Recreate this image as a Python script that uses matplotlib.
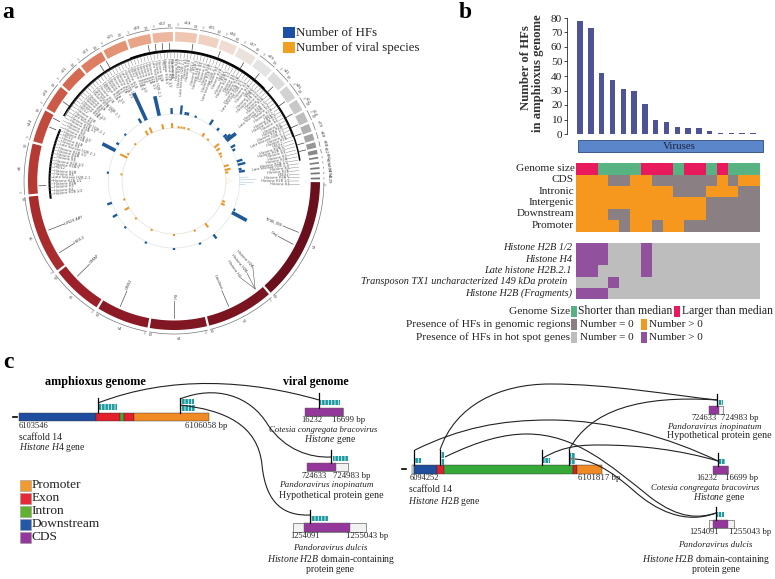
import numpy as np
import matplotlib
matplotlib.use("Agg")
import matplotlib.pyplot as plt
from matplotlib.colors import ListedColormap
from matplotlib.patches import Rectangle, PathPatch
from matplotlib.path import Path

plt.rcParams['font.family'] = ['Liberation Serif', 'DejaVu Serif']
plt.rcParams['mathtext.fontset'] = 'custom'
plt.rcParams['mathtext.rm'] = 'Liberation Serif'
plt.rcParams['mathtext.it'] = 'Liberation Serif:italic'
plt.rcParams['hatch.linewidth'] = 0.6

# ---- panel a data (angles in degrees, clockwise from the top)
seg_names = ["s1", "s2", "s3", "s4", "s5", "s6", "s8", "s14", "s20", "s21", "s23", "s25", "s30",
             "s32", "s34", "s35", "s36", "s37", "s39", "s41", "s46", "s52", "s54", "s79", "s80",
             "s88", "s92", "s96", "s99", "s101", "s104", "s129"]
seg_edges = [90, 139, 166.5, 190, 211.6, 232.7, 264.4, 285, 298.7, 309.6, 320, 330.6, 341, 351,
             360, 369.6, 378.5, 386, 394.5, 402.5, 410, 416.5, 422, 427, 431, 434.5, 437.5, 440,
             442, 444, 446, 448, 450]
seg_colors = ["#6a0f1c", "#7a1420", "#801722", "#8c1a26", "#9c2029", "#a82c2e", "#b53a33", "#c04a3d",
              "#cc5a48", "#d56a52", "#dd7e63", "#e39373", "#e8a587", "#ecb79e", "#efc6b2", "#f0d2c3",
              "#efdcd2", "#ece2dc", "#e4e4e4", "#dcdcdc", "#d2d2d2", "#c8c8c8", "#bdbdbd", "#b0b0b0",
              "#a4a4a4", "#969696", "#888888", "#808080", "#808080", "#777777", "#777777", "#777777"]

hf_angles = [297, 303, 313, 330, 335, 347, 358, 6, 10, 12, 19, 33, 41, 49, 51, 53, 60, 63, 73, 76, 80, 82,
             277, 251, 240, 227, 205, 180, 157, 143, 115, 118]
hf_heights = [15, 3, 2, 5, 30, 20, 6, 9, 3, 3, 2, 6, 3, 4, 7, 12, 5, 3, 6, 8, 3, 6,
              2, 5, 5, 2, 2, 2, 2, 5, 2, 17]
vs_angles = [296, 300, 313, 330, 335, 348, 358, 5, 8, 11, 16, 33, 40, 51, 55, 60, 63, 74, 78, 81,
             277, 250, 240, 226, 205, 180, 157, 143, 115, 112]
vs_heights = [8, 2, 2, 5, 6, 5, 5, 2, 2, 2, 2, 4, 2, 6, 4, 3, 2, 5, 6, 3,
              2, 2, 5, 2, 2, 2, 2, 5, 4, 3]
thin_angles = [87, 89, 91, 93]
thin_heights = [9, 17, 14, 6]

gene_names = ["Histone H2B 1/2", "Histone H4", "Histone H3", "Histone H2A", "Histone H2B 1/2",
              "Late histone H2B.2.1", "Histone H4", "Histone H2B", "HSDL2", "Histone H2A.V"]
side_angles = [249, 238.5, 226, 203.6, 180, 156, 117.5, 112]
side_names = ["LIN28 ABY", "HSDL2", "GIMAP", "GINS2", "Pol", "Catalase", "Gag", "TY3B_XIB"]
stem_angles = [268, 293, 297, 305, 327, 330, 349, 352, 355, 358, 8, 20, 31, 39, 47, 55, 61, 66, 70, 74, 77]

# ---- panel b data
hf_counts = [78, 73, 42, 37, 31, 30, 21, 10, 8, 5, 4, 4, 2, 1, 1, 1, 1]
hf_ticks = [0, 10, 20, 30, 40, 50, 60, 70, 80]
region_labels = ["Genome size", "CDS", "Intronic", "Intergenic", "Downstream", "Promoter"]
genome_size = [1, 1, 0, 0, 0, 0, 1, 1, 1, 0, 1, 1, 0, 1, 0, 0, 0]
cds =         [3, 3, 3, 2, 2, 3, 3, 2, 2, 2, 2, 2, 2, 3, 2, 3, 3]
intronic =    [3, 3, 3, 3, 3, 3, 3, 3, 3, 2, 2, 2, 3, 3, 3, 2, 2]
intergenic =  [3, 3, 3, 3, 3, 3, 3, 3, 3, 3, 3, 3, 2, 2, 2, 2, 2]
downstream =  [3, 3, 3, 2, 2, 3, 3, 3, 3, 3, 3, 3, 2, 2, 2, 2, 2]
promoter =    [3, 3, 3, 3, 2, 3, 3, 2, 3, 3, 2, 2, 2, 2, 2, 2, 2]
hot_labels = ["Histone H2B 1/2", "Histone H4", "Late histone H2B.2.1",
              "Transposon TX1 uncharacterized 149 kDa protein", "Histone H2B (Fragments)"]
hot_right = [572, 572, 572, 567, 572]
hot_h2b12 =   [1, 1, 1, 0, 0, 0, 1, 0, 0, 0, 0, 0, 0, 0, 0, 0, 0]
hot_h4 =      [1, 1, 1, 0, 0, 0, 1, 0, 0, 0, 0, 0, 0, 0, 0, 0, 0]
hot_late =    [1, 1, 0, 0, 0, 0, 1, 0, 0, 0, 0, 0, 0, 0, 0, 0, 0]
hot_tx1 =     [0, 0, 0, 1, 0, 0, 0, 0, 0, 0, 0, 0, 0, 0, 0, 0, 0]
hot_frag =    [1, 1, 1, 0, 0, 0, 0, 0, 0, 0, 0, 0, 0, 0, 0, 0, 0]

# ---- panel c data: gene parts as (start, stop, colour)
h4_parts = [(19, 96, "#1f4e9e"), (96, 120, "#e21f2a"), (120, 124, "#4aa832"),
            (124, 134, "#e21f2a"), (134, 209, "#f08a24")]
h2b_parts = [(412, 414, "#e8e8e8"), (414, 437, "#1f4e9e"), (437, 444, "#e21f2a"),
             (444, 573, "#36a838"), (573, 577, "#d0201f"), (577, 602, "#f08a24")]
legend_c = ["Promoter", "Exon", "Intron", "Downstream", "CDS"]
legend_c_colors = ["#f09a30", "#e6283a", "#62b030", "#2358a8", "#93379a"]

BLUE = "#1f5a96"
ORANGE = "#e8972a"
GREEN = "#57b482"
RED = "#e8195c"
HEAT_ORANGE = "#f6971e"
HEAT_GRAY = "#8a7f83"
LIGHT = "#bdbdbd"
PURPLE = "#91519c"
TEXT = "#222222"
TEAL = "#1b9aa0"

SMALL = 6.0    # coordinates under the gene boxes
NOTE = 6.9     # scaffold / gene captions
ITAL = 6.3     # virus names

fig = plt.figure(figsize=(7.75, 5.79), dpi=100)
ax = fig.add_axes([0, 0, 1, 1])
ax.set_xlim(0, 775)
ax.set_ylim(579, 0)
ax.axis('off')

def txt(x, y, s, size=9.5, ha='left', va='center', **kw):
    kw.setdefault('color', TEXT)
    ax.text(x, y, s, fontsize=size, ha=ha, va=va, **kw)

CX, CY = 174, 181

def pol(a, r):
    a = np.radians(a)
    return CX + 0.98 * r * np.sin(a), CY - r * np.cos(a)

def arc(a0, a1, r, **kw):
    xs, ys = pol(np.linspace(a0, a1, 80), r)
    ax.plot(xs, ys, solid_capstyle='butt', **kw)

# ---------- a
txt(8, 13, "a", 17, ha='center', fontweight='bold', color='black')
for i, name in enumerate(seg_names):
    a0, a1 = seg_edges[i] + 0.45, seg_edges[i + 1] - 0.45
    if a1 - a0 < 1.2:
        a0, a1 = a0 + 0.2, a1 - 0.2
    t = np.linspace(a0, a1, 40)
    xo, yo = pol(t, 149)
    xi, yi = pol(t[::-1], 139.5)
    ax.fill(np.r_[xo, xi], np.r_[yo, yi], color=seg_colors[i], lw=0)
    arc(a0, a1, 153, color="#777777", lw=0.5)
    mid = (a0 + a1) / 2
    x, y = pol(mid, 158)
    rot = -mid if np.cos(np.radians(mid)) > 0 else 180 - mid
    txt(x, y, name, 3.6, ha='center', rotation=rot, color="#333333")
    if a1 - a0 > 4:
        for e in (a0 + 1, a1 - 1):
            x, y = pol(e, 155.5)
            txt(x, y, "0" if e < mid else "1M", 2.2, ha='center', rotation=rot, color="#555555")

# link arcs
arc(262, 294, 127, color="black", lw=1.5)
arc(300, 360 + 81, 130, color="black", lw=1.1)
arc(304, 360 + 70, 129.2, color="#111111", lw=0.9)
arc(340, 360 + 45, 130.6, color="black", lw=1.0)
arc(300, 340, 128.6, color="#444444", lw=0.5)
for a in stem_angles:
    x, y = pol(np.array([a, a]), np.array([131, 138]))
    ax.plot(x, y, color="#444444", lw=0.5)

# radial gene labels
label_angles = np.arange(-96, 92, 1.55)
for i, a in enumerate(label_angles):
    a = a % 360
    r_out = 123 if a > 180 or a < 70 else 118
    x, y = pol(np.array([a, a]), np.array([r_out, 128]))
    ax.plot(x, y, color="#777777", lw=0.3)
    x, y = pol(a, r_out)
    name = gene_names[i % len(gene_names)]
    if a > 180:
        ax.text(x, y, name, fontsize=2.5, color="#555555", rotation=270 - a, ha='left', va='center',
                rotation_mode='anchor', family='DejaVu Sans')
    else:
        ax.text(x, y, name, fontsize=2.5, color="#555555", rotation=90 - a, ha='right', va='center',
                rotation_mode='anchor', family='DejaVu Sans')

# bottom leaders with a single gene each
for a, name in zip(side_angles, side_names):
    x, y = pol(np.array([a, a]), np.array([137, 120]))
    ax.plot(x, y, color="#555555", lw=0.5)
    x, y = pol(a, 119)
    if a > 180:
        ax.text(x, y, name, fontsize=2.7, color="#444444", rotation=270 - a, ha='left', va='center',
                rotation_mode='anchor', family='DejaVu Sans')
    else:
        ax.text(x, y, name, fontsize=2.7, color="#444444", rotation=90 - a, ha='right', va='center',
                rotation_mode='anchor', family='DejaVu Sans')
for a2, name in zip([137, 141, 145], ["Histone H2A", "Histone H2B", "Histone H4"]):
    x, y = pol(np.array([142.5, a2]), np.array([136, 118]))
    ax.plot(x, y, color="#555555", lw=0.4)
    x, y = pol(a2, 117)
    ax.text(x, y, name, fontsize=2.6, color="#444444", rotation=90 - a2, ha='right', va='center',
            rotation_mode='anchor', family='DejaVu Sans')

# two bar tracks
arc(0, 360, 67, color="#e1e9ee", lw=0.6)
arc(0, 360, 53, color="#e9e4dc", lw=0.6)
for a, h in zip(hf_angles, hf_heights):
    x, y = pol(np.array([a, a]), np.array([67, 67 + h]))
    ax.plot(x, y, color=BLUE, lw=2.6 if h >= 10 else 1.7, solid_capstyle='butt')
for a, h in zip(vs_angles, vs_heights):
    x, y = pol(np.array([a, a]), np.array([53, 53 + h]))
    ax.plot(x, y, color=ORANGE, lw=1.5, solid_capstyle='butt')
for a, h in zip(thin_angles, thin_heights):
    x, y = pol(np.array([a, a]), np.array([67, 67 + h]))
    ax.plot(x, y, color="#a8c6de", lw=0.4)
    x, y = pol(np.array([a, a]), np.array([53, 53 + h * 0.4]))
    ax.plot(x, y, color="#f5dcbc", lw=0.3)

ax.add_patch(Rectangle((283, 27), 12, 11, color="#1e4fa6", lw=0))
ax.add_patch(Rectangle((283, 42), 12, 11, color="#f0a020", lw=0))
txt(296, 33, "Number of HFs", 9.3)
txt(296, 48, "Number of viral species", 9.3)

# ---------- b
txt(465, 12, "b", 17, ha='center', fontweight='bold', color='black')
W, H = 775.0, 579.0

def add_px_axes(x0, y0, x1, y1):
    return fig.add_axes([x0 / W, 1 - y1 / H, (x1 - x0) / W, (y1 - y0) / H])

bar_ax = add_px_axes(567, 18, 765, 134)
bar_ax.patch.set_alpha(0)
bar_ax.bar(range(len(hf_counts)), hf_counts, width=0.5, color="#4d5394")
bar_ax.set_xlim(-13 / 10.8, (765 - 580) / 10.8)
bar_ax.set_ylim(0, 80)
bar_ax.set_yticks(hf_ticks)
bar_ax.tick_params(axis='y', labelsize=8.2, length=2, width=0.5, pad=1.5, labelcolor=TEXT)
bar_ax.set_xticks([])
for s in ('top', 'right', 'bottom'):
    bar_ax.spines[s].set_visible(False)
bar_ax.spines['left'].set_linewidth(0.5)
txt(526, 68, "Number of HFs", 9.2, ha='center', rotation=90, fontweight='bold', color="#333333")
txt(538, 73, "in amphioxus genome", 9.2, ha='center', rotation=90, fontweight='bold', color="#333333")

ax.add_patch(Rectangle((578, 140), 185, 12, facecolor="#5b86c9", edgecolor="#2e4a7a", lw=0.6))
txt(679, 146.5, "Viruses", 7.8, ha='center', color="#1a2440")

rows = np.array([genome_size, cds, intronic, intergenic, downstream, promoter])
heat_ax = add_px_axes(576, 163, 760, 232)
heat_ax.pcolormesh(rows, cmap=ListedColormap([GREEN, RED, HEAT_GRAY, HEAT_ORANGE]), vmin=0, vmax=3)
heat_ax.invert_yaxis()
heat_ax.axis('off')
for i, lab in enumerate(region_labels):
    txt(575 if i == 0 else 574, 168.3 + i * 11.4, lab, 8.1, ha='right')

hot = np.array([hot_h2b12, hot_h4, hot_late, hot_tx1, hot_frag])
hot_ax = add_px_axes(576, 243, 760, 299)
hot_ax.pcolormesh(hot, cmap=ListedColormap([LIGHT, PURPLE]), vmin=0, vmax=1)
hot_ax.invert_yaxis()
hot_ax.axis('off')
for i, lab in enumerate(hot_labels):
    txt(hot_right[i], 247.6 + i * 11.4, lab, 7.4, ha='right', style='italic')

for y, lab in zip([311, 324, 337], ["Genome Size", "Presence of HFs in genomic regions", "Presence of HFs in hot spot genes"]):
    txt(570, y, lab, 8.2, ha='right')
for y, c in zip([311, 324, 337], [GREEN, HEAT_GRAY, LIGHT]):
    ax.add_patch(Rectangle((571, y - 5.5), 6, 11, color=c, lw=0))
ax.add_patch(Rectangle((674, 306), 6, 11, color=RED, lw=0))
ax.add_patch(Rectangle((641, 319), 6, 11, color=HEAT_ORANGE, lw=0))
ax.add_patch(Rectangle((641, 332), 6, 11, color=PURPLE, lw=0))
txt(578, 311, "Shorter than median", 8.4)
txt(682, 311, "Larger than median", 8.4)
txt(580, 324.5, "Number = 0", 8.0)
txt(649, 324.5, "Number > 0", 8.0)
txt(580, 337.5, "Number = 0", 8.0)
txt(649, 337.5, "Number > 0", 8.0)

# ---------- c
txt(8, 362, "c", 17, ha='center', fontweight='bold', color='black')
txt(95, 382, "amphioxus genome", 8.8, ha='center', fontweight='bold', color='black')
txt(316, 382, "viral genome", 8.6, ha='center', fontweight='bold', color='black')

def gene_bar(parts, y0, y1):
    for x0, x1, c in parts:
        ax.add_patch(Rectangle((x0, y0), x1 - x0, y1 - y0, facecolor=c, edgecolor="#333333", lw=0.3))

def teal(x0, x1, y0, y1):
    ax.add_patch(Rectangle((x0, y0), x1 - x0, y1 - y0, facecolor=TEAL, edgecolor="#e8f6f6", hatch='|||||', lw=0))

def stick(x, y0, y1):
    ax.plot([x, x], [y0, y1], color="black", lw=0.9)

def curve(*pts):
    codes = [Path.MOVETO] + [Path.CURVE4] * (len(pts) - 1)
    ax.add_patch(PathPatch(Path(pts, codes), fill=False, edgecolor="#222222", lw=0.8))

def cds_box(x0, x1, p0, p1, y0, y1):
    ax.add_patch(Rectangle((x0, y0), x1 - x0, y1 - y0, facecolor="#f2f2f2", edgecolor="#666666", lw=0.5))
    ax.add_patch(Rectangle((p0, y0), p1 - p0, y1 - y0, facecolor="#93379a", edgecolor="#555555", lw=0.3))

gene_bar(h4_parts, 413, 421)
ax.plot([13, 17], [416.5, 416.5], color="black", lw=1.2)
stick(98, 398, 413)
teal(99, 117, 404, 410)
stick(180, 398, 413)
teal(180, 194, 399, 404)
teal(180, 195, 405, 411)
curve((98, 403), (170, 375), (250, 380), (319, 400))
curve((180, 399), (215, 385), (250, 395), (268, 425), (285, 450), (310, 458), (331, 457))
curve((180, 405), (225, 410), (258, 425), (262, 465), (266, 505), (285, 516), (310, 515))

cds_box(305, 343, 305, 343, 408, 416)
stick(319, 393, 408)
teal(320, 340, 400, 405)
cds_box(307, 348, 307, 336, 463, 471)
stick(331, 450, 463)
teal(333, 348, 456, 461)
cds_box(293, 366, 304, 350, 523, 532)
stick(310, 510, 523)
teal(311, 328, 516, 521)

txt(19, 425.5, "6103546", SMALL)
txt(185, 426, "6106058 bp", SMALL + 0.3)
txt(19, 437, "scaffold 14", NOTE)
txt(19, 447.5, r"$\mathit{Histone\ H4}$ gene", NOTE)
txt(301, 420.5, "16232", SMALL)
txt(332, 420.5, "16699 bp", SMALL + 0.3)
txt(323, 430, "Cotesia congregata bracovirus", ITAL, ha='center', style='italic')
txt(330, 440, r"$\mathit{Histone}$ gene", NOTE, ha='center')
txt(302, 476, "724633", SMALL)
txt(333, 476, "724983 bp", SMALL + 0.3)
txt(326, 485, "Pandoravirus inopinatum", ITAL + 0.3, ha='center', style='italic')
txt(331, 495, "Hypothetical protein gene", 7.2, ha='center')
txt(290, 536, "1254091", SMALL)
txt(346, 536, "1255043 bp", SMALL + 0.3)
txt(330, 548, "Pandoravirus dulcis", ITAL + 0.3, ha='center', style='italic')
txt(331, 560, r"$\mathit{Histone\ H2B}$ domain-containing", 7.0, ha='center')
txt(330, 570, "protein gene", NOTE, ha='center')

for i, (lab, c) in enumerate(zip(legend_c, legend_c_colors)):
    y = 480 + i * 13.1
    ax.add_patch(Rectangle((20, y), 11, 10.5, facecolor=c, edgecolor="#999999", lw=0.4))
    txt(32, y + 5, lab, 9.6)

# right hand gene
gene_bar(h2b_parts, 465, 474)
ax.plot([402, 406], [469, 469], color="black", lw=1.2)
stick(414, 450, 465)
teal(415, 421, 458, 463)
stick(440, 450, 465)
teal(441, 444, 452, 458)
teal(441, 444, 459, 465)
stick(542, 450, 465)
teal(543, 550, 458, 463)
stick(569, 450, 465)
teal(570, 575, 453, 458)
teal(570, 575, 460, 464)
curve((440, 450), (455, 405), (500, 384), (550, 384), (610, 384), (670, 395), (717, 400))
curve((569, 450), (590, 410), (640, 395), (717, 400))
curve((415, 450), (460, 428), (500, 420), (550, 420), (610, 420), (670, 438), (718, 461))
curve((445, 457), (480, 440), (505, 434), (527, 434), (575, 434), (610, 465), (650, 497),
      (680, 520), (700, 518), (716, 513))
curve((543, 458), (565, 445), (585, 445), (600, 445), (640, 445), (680, 450), (718, 461))
curve((570, 459), (590, 458), (610, 470), (633, 490), (655, 510), (685, 525), (716, 513))

cds_box(709, 723, 709, 719, 406, 414)
stick(717, 394, 406)
teal(718, 723, 400, 405)
cds_box(713, 728, 713, 728, 466, 474)
stick(718, 453, 466)
teal(719, 725, 459, 464)
cds_box(709, 734, 713, 728, 520, 528)
stick(716, 507, 520)
teal(717, 724, 512, 517)

txt(410, 478, "6094252", SMALL)
txt(578, 478, "6101817 bp", SMALL + 0.3)
txt(409, 489, "scaffold 14", NOTE)
txt(408, 502, r"$\mathit{Histone\ H2B}$ gene", NOTE)
txt(691, 418, "724633", SMALL)
txt(721, 418, "724983 bp", SMALL + 0.3)
txt(714, 427, "Pandoravirus inopinatum", ITAL + 0.3, ha='center', style='italic')
txt(719, 436, "Hypothetical protein gene", 7.2, ha='center')
txt(696, 478, "16232", SMALL)
txt(725, 478, "16699 bp", SMALL + 0.3)
txt(705, 488, "Cotesia congregata bracovirus", ITAL, ha='center', style='italic')
txt(719, 498, r"$\mathit{Histone}$ gene", NOTE, ha='center')
txt(689, 532, "1254091", SMALL)
txt(729, 532, "1255043 bp", SMALL + 0.3)
txt(715, 545, "Pandoravirus dulcis", ITAL + 0.3, ha='center', style='italic')
txt(706, 560, r"$\mathit{Histone\ H2B}$ domain-containing", 7.0, ha='center')
txt(716, 570, "protein gene", NOTE, ha='center')

fig.savefig("out.png", dpi=100)
